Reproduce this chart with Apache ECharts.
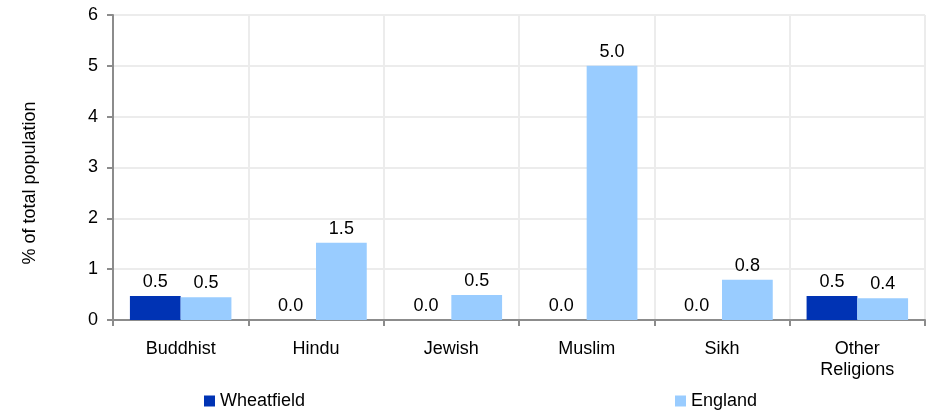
<!DOCTYPE html>
<html>
<head>
<meta charset="utf-8">
<script src="https://cdn.jsdelivr.net/npm/echarts@6/dist/echarts.min.js"></script>
<style>
html,body{margin:0;padding:0;background:#fff;}
#chart{width:926px;height:411px;}
</style>
</head>
<body>
<div id="chart"></div>
<script>
const categories = ['Buddhist', 'Hindu', 'Jewish', 'Muslim', 'Sikh', 'Other\nReligions'];
const wheatfield = [0.47, 0.0, 0.0, 0.0, 0.0, 0.47];
const england = [0.45, 1.52, 0.49, 5.0, 0.79, 0.43];
const yTicks = [0, 1, 2, 3, 4, 5, 6];
const yTitle = '% of total population';

const FONT = 'Liberation Sans, Arial, sans-serif';
const FS = 18;
const chart = echarts.init(document.getElementById('chart'));
const labelOpt = {
  show: true,
  position: 'top',
  distance: 5,
  color: '#000',
  fontFamily: FONT,
  fontSize: FS,
  formatter: p => p.value.toFixed(1)
};
chart.setOption({
  animation: false,
  textStyle: { fontFamily: FONT },
  grid: { left: 113, right: 1, top: 15, bottom: 91 },
  legend: [
    {
      data: ['Wheatfield'], left: 199, top: 387, itemWidth: 11, itemHeight: 11, itemGap: 8, icon: 'rect',
      textStyle: { fontFamily: FONT, fontSize: FS, color: '#000' }
    },
    {
      data: ['England'], left: 670, top: 387, itemWidth: 11, itemHeight: 11, icon: 'rect',
      textStyle: { fontFamily: FONT, fontSize: FS, color: '#000' }
    }
  ],
  graphic: [{
    type: 'text',
    x: 30, y: 183,
    rotation: Math.PI / 2,
    style: {
      text: yTitle, fill: '#000', fontSize: FS, fontFamily: FONT,
      align: 'center', verticalAlign: 'middle'
    }
  }],
  xAxis: {
    type: 'category',
    data: categories,
    axisLine: { lineStyle: { color: '#8c8c8c', width: 2 } },
    axisTick: { show: true, length: 6, lineStyle: { color: '#8c8c8c', width: 2 } },
    splitLine: { show: true, lineStyle: { color: '#ececec', width: 2 } },
    axisLabel: { color: '#000', fontSize: FS, fontFamily: FONT, margin: 19, lineHeight: 21, interval: 0 }
  },
  yAxis: {
    type: 'value',
    min: yTicks[0],
    max: yTicks[yTicks.length - 1],
    interval: 1,
    axisLine: { show: true, lineStyle: { color: '#8c8c8c', width: 2 } },
    axisTick: { show: true, length: 6, lineStyle: { color: '#8c8c8c', width: 2 } },
    splitLine: { show: true, lineStyle: { color: '#ececec', width: 2 } },
    axisLabel: { color: '#000', fontSize: FS, fontFamily: FONT, margin: 15 }
  },
  series: [
    {
      name: 'Wheatfield', type: 'bar', data: wheatfield,
      itemStyle: { color: '#0033b4' },
      barGap: '0%', barCategoryGap: '25%',
      label: labelOpt
    },
    {
      name: 'England', type: 'bar', data: england,
      itemStyle: { color: '#99ccff' },
      label: labelOpt
    }
  ]
});
</script>
</body>
</html>
